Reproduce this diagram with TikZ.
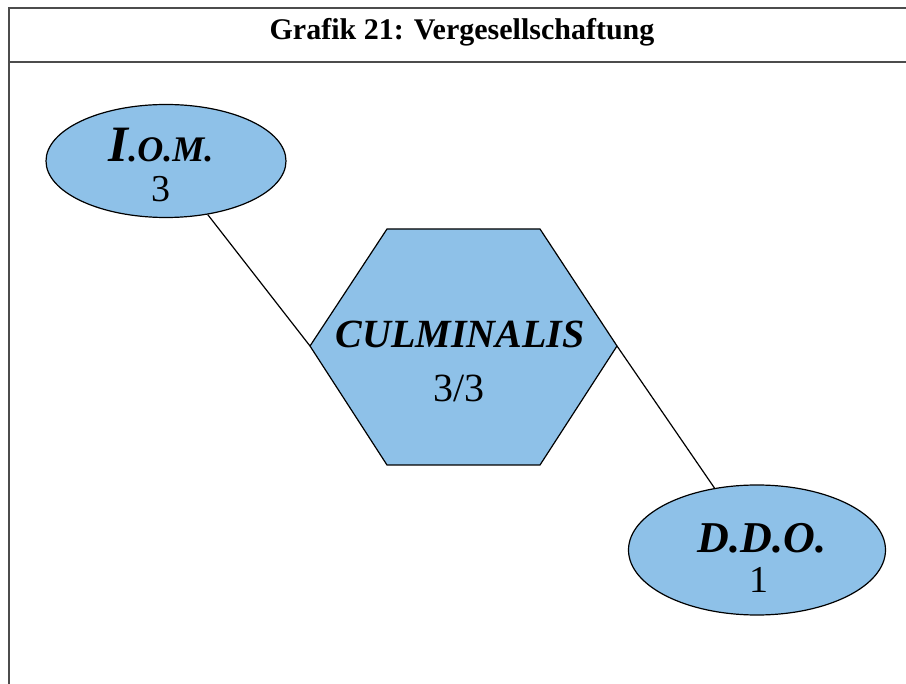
\documentclass[tikz,border=0pt]{standalone}
\usepackage{fontspec}
\setmainfont{Liberation Serif}
\definecolor{skyfill}{RGB}{142, 193, 232}
\usepackage{tikz}
\usetikzlibrary{
  shapes.geometric
}

\begin{document}
\begin{tikzpicture}[
  x=1pt, y=-1pt,
  oval/.style={ellipse, draw=black, fill=skyfill, line width=1.2pt, inner sep=0pt},
  hexbody/.style={draw=black, fill=skyfill, line width=1.2pt},
  namelbl/.style={anchor=base, inner sep=0pt},
  countlbl/.style={anchor=base, inner sep=0pt, font=\fontsize{38}{38}\selectfont},
  edge/.style={draw=black, line width=1.2pt},
  framerule/.style={draw=black!70, line width=2pt}
]
\useasboundingbox (0,0) rectangle (906,684);

% frame and title
\draw[framerule] (906,8) -- (9,8) -- (9,684);
\draw[framerule] (9,62) -- (906,62);
\node[anchor=base, inner sep=0pt, font=\fontsize{30}{36}\selectfont\bfseries] (title) at (462,40)
  {Grafik 21: Vergesellschaftung};

% shapes
\node[oval, minimum width=240pt, minimum height=113pt] (iom) at (166,161) {};
\node[oval, minimum width=257pt, minimum height=130pt] (ddo) at (757,550) {};
\path[hexbody] (310,346) coordinate (hl) -- (387,229) -- (540,229)
  -- (617,346) coordinate (hr) -- (540,465) -- (387,465) -- cycle;

\draw[edge] (iom) -- (hl);
\draw[edge] (hr) -- (ddo);

% texts
\node[namelbl, font=\bfseries\itshape] (iomname) at (161,162)
  {{\fontsize{51}{51}\selectfont I}{\fontsize{36}{36}\selectfont .O.M.}};
\node[countlbl] (iomcount) at (161,202) {3};

\node[namelbl, font=\fontsize{40}{40}\selectfont\bfseries\itshape] (culname) at (460,348) {CULMINALIS};
\node[countlbl, font=\fontsize{40}{40}\selectfont] (culcount) at (459,402) {3/3};

\node[namelbl, font=\fontsize{44}{44}\selectfont\bfseries\itshape] (ddoname) at (762,553) {D.D.O.};
\node[countlbl] (ddocount) at (759,593) {1};

\end{tikzpicture}
\end{document}
